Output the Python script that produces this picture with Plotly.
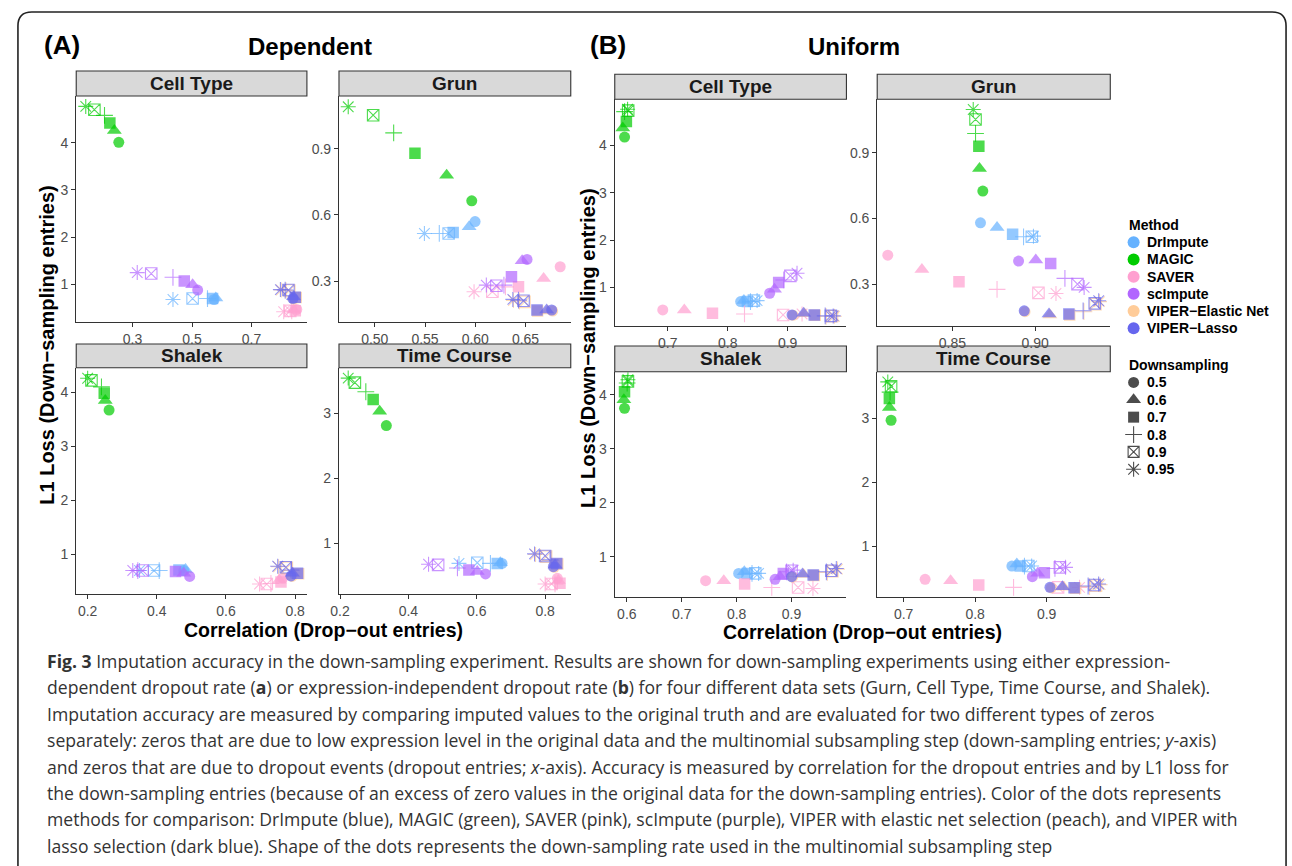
import plotly.graph_objects as go

W, H = 1292, 866

# ---------------- data ----------------
METHODS = ["DrImpute", "MAGIC", "SAVER", "scImpute", "VIPER−Elastic Net", "VIPER−Lasso"]
RATES = ["0.5", "0.6", "0.7", "0.8", "0.9", "0.95"]
DATASETS = ["Cell Type", "Grun", "Shalek", "Time Course"]

# Each row = one method (order of METHODS), each column = one down-sampling rate (order of RATES)
DEP_CELLTYPE_CORR = [
    [0.574, 0.580, 0.569, 0.552, 0.502, 0.436],
    [0.254, 0.239, 0.224, 0.206, 0.172, 0.143],
    [0.852, 0.841, 0.847, 0.835, 0.830, 0.808],
    [0.519, 0.502, 0.474, 0.436, 0.363, 0.316],
    [0.842, 0.844, 0.850, 0.816, 0.827, 0.800],
    [0.839, 0.841, 0.847, 0.813, 0.824, 0.797],
]
DEP_CELLTYPE_L1 = [
    [0.68, 0.71, 0.70, 0.70, 0.70, 0.68],
    [4.01, 4.26, 4.42, 4.58, 4.70, 4.77],
    [0.47, 0.46, 0.44, 0.44, 0.44, 0.42],
    [0.88, 0.99, 1.07, 1.15, 1.23, 1.25],
    [0.69, 0.73, 0.72, 0.87, 0.87, 0.88],
    [0.70, 0.74, 0.73, 0.88, 0.88, 0.89],
]
DEP_GRUN_CORR = [
    [0.5998, 0.5939, 0.578, 0.5642, 0.5735, 0.5494],
    [0.5965, 0.5715, 0.540, 0.5188, 0.4984, 0.4736],
    [0.6845, 0.668, 0.643, 0.630, 0.617, 0.5988],
    [0.6515, 0.6466, 0.636, 0.6285, 0.621, 0.611],
    [0.677, 0.672, 0.662, 0.644, 0.649, 0.638],
    [0.676, 0.671, 0.6614, 0.643, 0.648, 0.6374],
]
DEP_GRUN_L1 = [
    [0.570, 0.546, 0.520, 0.516, 0.516, 0.516],
    [0.664, 0.780, 0.879, 0.972, 1.052, 1.090],
    [0.365, 0.312, 0.274, 0.274, 0.252, 0.252],
    [0.398, 0.392, 0.320, 0.282, 0.279, 0.282],
    [0.164, 0.164, 0.164, 0.209, 0.206, 0.212],
    [0.169, 0.169, 0.169, 0.214, 0.211, 0.217],
]
DEP_SHALEK_CORR = [
    [0.478, 0.483, 0.464, 0.407, 0.392, 0.350],
    [0.262, 0.251, 0.248, 0.240, 0.211, 0.200],
    [0.764, 0.754, 0.759, 0.730, 0.718, 0.697],
    [0.495, 0.478, 0.454, 0.345, 0.359, 0.3305],
    [0.791, 0.795, 0.810, 0.791, 0.776, 0.752],
    [0.788, 0.792, 0.807, 0.788, 0.773, 0.7495],
]
DEP_SHALEK_L1 = [
    [0.70, 0.72, 0.71, 0.70, 0.70, 0.70],
    [3.67, 3.85, 3.98, 4.10, 4.22, 4.26],
    [0.56, 0.52, 0.49, 0.46, 0.45, 0.45],
    [0.59, 0.65, 0.68, 0.70, 0.70, 0.70],
    [0.59, 0.64, 0.64, 0.70, 0.75, 0.77],
    [0.60, 0.65, 0.65, 0.71, 0.76, 0.78],
]
DEP_TIMECOURSE_CORR = [
    [0.674, 0.669, 0.660, 0.640, 0.6015, 0.548],
    [0.3355, 0.316, 0.297, 0.2755, 0.2435, 0.224],
    [0.8357, 0.8385, 0.8435, 0.829, 0.819, 0.800],
    [0.6257, 0.6015, 0.577, 0.5435, 0.487, 0.459],
    [0.827, 0.832, 0.837, 0.8175, 0.803, 0.772],
    [0.824, 0.829, 0.834, 0.8145, 0.800, 0.769],
]
DEP_TIMECOURSE_L1 = [
    [0.69, 0.70, 0.69, 0.69, 0.70, 0.69],
    [2.81, 3.03, 3.21, 3.33, 3.47, 3.54],
    [0.46, 0.426, 0.385, 0.374, 0.374, 0.374],
    [0.528, 0.564, 0.59, 0.62, 0.667, 0.677],
    [0.63, 0.657, 0.68, 0.734, 0.795, 0.826],
    [0.64, 0.667, 0.69, 0.744, 0.805, 0.836],
]
UNI_CELLTYPE_CORR = [
    [0.8216, 0.827, 0.8327, 0.838, 0.8437, 0.849],
    [0.628, 0.625, 0.631, 0.628, 0.634, 0.633],
    [0.6917, 0.7276, 0.7746, 0.828, 0.8924, 0.924],
    [0.870, 0.878, 0.885, 0.8935, 0.9045, 0.9156],
    [0.909, 0.928, 0.946, 0.964, 0.974, 0.978],
    [0.9073, 0.9266, 0.9443, 0.9626, 0.972, 0.976],
]
UNI_CELLTYPE_L1 = [
    [0.696, 0.717, 0.696, 0.696, 0.717, 0.717],
    [4.18, 4.37, 4.51, 4.72, 4.74, 4.77],
    [0.52, 0.52, 0.45, 0.435, 0.414, 0.435],
    [0.873, 0.958, 1.10, 1.155, 1.24, 1.297],
    [0.405, 0.44, 0.405, 0.385, 0.385, 0.385],
    [0.414, 0.45, 0.414, 0.393, 0.393, 0.393],
]
UNI_GRUN_CORR = [
    [0.867, 0.877, 0.8864, 0.893, 0.898, 0.899],
    [0.8684, 0.8664, 0.866, 0.864, 0.864, 0.8626],
    [0.811, 0.8316, 0.854, 0.877, 0.902, 0.9126],
    [0.890, 0.9004, 0.9094, 0.918, 0.9256, 0.9296],
    [0.8939, 0.9089, 0.9209, 0.9295, 0.9365, 0.9389],
    [0.8934, 0.9084, 0.9204, 0.929, 0.936, 0.9384],
]
UNI_GRUN_L1 = [
    [0.58, 0.559, 0.528, 0.516, 0.516, 0.519],
    [0.7247, 0.828, 0.930, 0.988, 1.052, 1.0976],
    [0.432, 0.367, 0.311, 0.276, 0.26, 0.257],
    [0.405, 0.41, 0.394, 0.326, 0.30, 0.285],
    [0.174, 0.159, 0.159, 0.174, 0.208, 0.22],
    [0.178, 0.163, 0.163, 0.178, 0.212, 0.224],
]
UNI_SHALEK_CORR = [
    [0.8037, 0.814, 0.819, 0.828, 0.834, 0.840],
    [0.5958, 0.5946, 0.5958, 0.6006, 0.602, 0.602],
    [0.7435, 0.7766, 0.8146, 0.864, 0.912, 0.939],
    [0.870, 0.879, 0.885, 0.891, 0.900, 0.903],
    [0.902, 0.922, 0.9414, 0.9655, 0.9745, 0.9836],
    [0.9002, 0.920, 0.9394, 0.9635, 0.9725, 0.9816],
]
UNI_SHALEK_L1 = [
    [0.69, 0.72, 0.69, 0.69, 0.69, 0.69],
    [3.75, 3.91, 4.06, 4.22, 4.25, 4.28],
    [0.555, 0.555, 0.493, 0.43, 0.43, 0.41],
    [0.58, 0.63, 0.69, 0.72, 0.74, 0.75],
    [0.62, 0.67, 0.65, 0.71, 0.73, 0.77],
    [0.63, 0.68, 0.66, 0.72, 0.74, 0.78],
]
UNI_TIMECOURSE_CORR = [
    [0.8514, 0.8583, 0.863, 0.869, 0.8745, 0.879],
    [0.6824, 0.680, 0.680, 0.681, 0.6824, 0.6778],
    [0.730, 0.7657, 0.805, 0.8537, 0.916, 0.946],
    [0.880, 0.8875, 0.8968, 0.9116, 0.9185, 0.9264],
    [0.9066, 0.924, 0.9404, 0.960, 0.969, 0.9747],
    [0.9046, 0.922, 0.9384, 0.958, 0.967, 0.9727],
]
UNI_TIMECOURSE_L1 = [
    [0.6875, 0.72, 0.6875, 0.6875, 0.6875, 0.6875],
    [2.97, 3.17, 3.31, 3.41, 3.50, 3.57],
    [0.479, 0.458, 0.39, 0.354, 0.354, 0.354],
    [0.52, 0.573, 0.583, 0.65, 0.667, 0.667],
    [0.344, 0.355, 0.339, 0.365, 0.38, 0.396],
    [0.354, 0.365, 0.349, 0.375, 0.39, 0.406],
]

# tick values per facet
TICKS_DEP_CELLTYPE_X = [0.3, 0.5, 0.7]
TICKS_DEP_CELLTYPE_Y = [1, 2, 3, 4]
TICKS_DEP_GRUN_X = [0.50, 0.55, 0.60, 0.65]
TICKS_DEP_GRUN_Y = [0.3, 0.6, 0.9]
TICKS_DEP_SHALEK_X = [0.2, 0.4, 0.6, 0.8]
TICKS_DEP_SHALEK_Y = [1, 2, 3, 4]
TICKS_DEP_TIMECOURSE_X = [0.2, 0.4, 0.6, 0.8]
TICKS_DEP_TIMECOURSE_Y = [1, 2, 3]
TICKS_UNI_CELLTYPE_X = [0.7, 0.8, 0.9]
TICKS_UNI_CELLTYPE_Y = [1, 2, 3, 4]
TICKS_UNI_GRUN_X = [0.85, 0.90]
TICKS_UNI_GRUN_Y = [0.3, 0.6, 0.9]
TICKS_UNI_SHALEK_X = [0.6, 0.7, 0.8, 0.9]
TICKS_UNI_SHALEK_Y = [1, 2, 3, 4]
TICKS_UNI_TIMECOURSE_X = [0.7, 0.8, 0.9]
TICKS_UNI_TIMECOURSE_Y = [1, 2, 3]

# ---------------- styles ----------------
METHOD_COLORS = ["#66B2FF", "#00CC00", "#FFA0D0", "#B266FF", "#FFCC99", "#6666EE"]
RATE_SYMBOLS = ["circle", "triangle-up", "square", "cross-thin-open", "square-x-open", "asterisk-open"]
RATE_SIZES = [11, 13, 11.5, 12, 11.5, 12.5]
RATE_LINEW = [0, 0, 0, 1.1, 1.1, 1.1]
SANS = "Liberation Sans, Arial, Helvetica, sans-serif"
CAPTION_FONT = "Open Sans, Noto Sans, sans-serif"


def fx(px):
    return px / W


def fy(py):
    return 1 - py / H


fig = go.Figure()

facets = [
    (DEP_CELLTYPE_CORR, DEP_CELLTYPE_L1, "Cell Type", (67.7, 300), (96, 321.7), (0.111, 0.886), (0.21, 4.99),
     TICKS_DEP_CELLTYPE_X, TICKS_DEP_CELLTYPE_Y, ".1f", "d", (71, 96)),
    (DEP_GRUN_CORR, DEP_GRUN_L1, "Grun", (332.3, 565.7), (96, 321.7), (0.4644, 0.695), (0.116, 1.139),
     TICKS_DEP_GRUN_X, TICKS_DEP_GRUN_Y, ".2f", ".1f", (71, 96)),
    (DEP_SHALEK_CORR, DEP_SHALEK_L1, "Shalek", (67.7, 300), (367.7, 594.3), (0.167, 0.834), (0.26, 4.455),
     TICKS_DEP_SHALEK_X, TICKS_DEP_SHALEK_Y, ".1f", "d", (344, 367.7)),
    (DEP_TIMECOURSE_CORR, DEP_TIMECOURSE_L1, "Time Course", (332.3, 565.7), (367.7, 594.3), (0.197, 0.875),
     (0.215, 3.70), TICKS_DEP_TIMECOURSE_X, TICKS_DEP_TIMECOURSE_Y, ".1f", "d", (344, 367.7)),
    (UNI_CELLTYPE_CORR, UNI_CELLTYPE_L1, "Cell Type", (610, 843.3), (99.3, 325.7), (0.6116, 0.998), (0.186, 4.98),
     TICKS_UNI_CELLTYPE_X, TICKS_UNI_CELLTYPE_Y, ".1f", "d", (74.3, 99.3)),
    (UNI_GRUN_CORR, UNI_GRUN_L1, "Grun", (874.3, 1109), (99.3, 325.7), (0.8046, 0.9454), (0.11, 1.144),
     TICKS_UNI_GRUN_X, TICKS_UNI_GRUN_Y, ".2f", ".1f", (74.3, 99.3)),
    (UNI_SHALEK_CORR, UNI_SHALEK_L1, "Shalek", (610, 843.3), (371.7, 597.3), (0.578, 1.0), (0.247, 4.43),
     TICKS_UNI_SHALEK_X, TICKS_UNI_SHALEK_Y, ".1f", "d", (346, 371.7)),
    (UNI_TIMECOURSE_CORR, UNI_TIMECOURSE_L1, "Time Course", (874.3, 1109), (371.7, 597.3), (0.663, 0.989),
     (0.198, 3.73), TICKS_UNI_TIMECOURSE_X, TICKS_UNI_TIMECOURSE_Y, ".1f", "d", (346, 371.7)),
]

shapes = []
annotations = []
layout_axes = {}

for i, (corr, l1, name, xd, yd, xr, yr, xt, yt, xf, yf, strip) in enumerate(facets, start=1):
    xa = "x" if i == 1 else f"x{i}"
    ya = "y" if i == 1 else f"y{i}"
    for m, meth in enumerate(METHODS):
        fig.add_trace(go.Scatter(
            x=corr[m], y=l1[m], mode="markers", xaxis=xa, yaxis=ya,
            name=meth, showlegend=False, hoverinfo="skip",
            marker=dict(symbol=RATE_SYMBOLS, size=RATE_SIZES, color=METHOD_COLORS[m],
                        line=dict(color=METHOD_COLORS[m], width=RATE_LINEW)),
        ))
    common = dict(showline=True, linecolor="#333333", linewidth=1.1, ticks="outside", ticklen=4,
                  tickwidth=1.1, tickcolor="#333333", showgrid=False, zeroline=False,
                  tickfont=dict(family=SANS, size=14, color="#4D4D4D"), fixedrange=True)
    layout_axes["xaxis" if i == 1 else f"xaxis{i}"] = dict(
        domain=[fx(xd[0]), fx(xd[1])], range=list(xr), tickvals=xt, tickformat=xf,
        anchor=ya, **common)
    layout_axes["yaxis" if i == 1 else f"yaxis{i}"] = dict(
        domain=[fy(yd[1]), fy(yd[0])], range=list(yr), tickvals=yt, tickformat=yf,
        anchor=xa, **common)
    shapes.append(dict(type="rect", xref="paper", yref="paper",
                       x0=fx(xd[0]), x1=fx(xd[1]), y0=fy(strip[1]), y1=fy(strip[0]),
                       fillcolor="#D9D9D9", line=dict(color="#333333", width=1.1), layer="below"))
    annotations.append(dict(text=f"<b>{name}</b>", xref="paper", yref="paper",
                            x=fx((xd[0] + xd[1]) / 2), y=fy((strip[0] + strip[1]) / 2),
                            xanchor="center", yanchor="middle", showarrow=False,
                            font=dict(family=SANS, size=19, color="#1A1A1A")))

# ---------- legend built on auxiliary category axes ----------
METHOD_ROWS = ["Method"] + METHODS
RATE_ROWS = ["Downsampling"] + RATES
layout_axes["xaxis9"] = dict(domain=[fx(1126), fx(1292)], range=[-1, 24.54], visible=False, fixedrange=True,
                             anchor="y9")
layout_axes["yaxis9"] = dict(domain=[fy(336.9), fy(216.4)], type="category", categoryarray=METHOD_ROWS,
                             categoryorder="array", range=[6.5, -0.5], visible=False, fixedrange=True,
                             anchor="x9")
layout_axes["xaxis10"] = dict(domain=[fx(1126), fx(1292)], range=[-1, 24.54], visible=False, fixedrange=True,
                              anchor="y10")
layout_axes["yaxis10"] = dict(domain=[fy(478), fy(356.3)], type="category", categoryarray=RATE_ROWS,
                              categoryorder="array", range=[6.5, -0.5], visible=False, fixedrange=True,
                              anchor="x10")

fig.add_trace(go.Scatter(x=[0] * len(METHODS), y=METHODS, xaxis="x9", yaxis="y9", mode="markers",
                         showlegend=False, hoverinfo="skip", cliponaxis=False,
                         marker=dict(symbol="circle", size=12, color=METHOD_COLORS)))
fig.add_trace(go.Scatter(x=[0] * len(RATES), y=RATES, xaxis="x10", yaxis="y10", mode="markers",
                         showlegend=False, hoverinfo="skip", cliponaxis=False,
                         marker=dict(symbol=RATE_SYMBOLS, size=[11, 13, 11, 12, 11, 12.5], color="black",
                                     line=dict(color="black", width=[0, 0, 0, 1.1, 1.1, 1.1]))))

LEG_FONT = dict(family=SANS, size=14, color="black")
for k, row in enumerate(METHOD_ROWS):
    annotations.append(dict(text=f"<b>{row}</b>", xref="x9", yref="y9", x=-1 if k == 0 else 1.8, y=k,
                            xanchor="left", yanchor="middle", showarrow=False, font=LEG_FONT))
for k, row in enumerate(RATE_ROWS):
    annotations.append(dict(text=f"<b>{row}</b>", xref="x10", yref="y10", x=-1 if k == 0 else 1.7, y=k,
                            xanchor="left", yanchor="middle", showarrow=False, font=LEG_FONT))


# ---------- panel titles / axis titles ----------
def ann(text, px, py, size, xanchor="center", angle=0, font=SANS, color="black"):
    annotations.append(dict(text=text, xref="paper", yref="paper", x=fx(px), y=fy(py), xanchor=xanchor,
                            yanchor="middle", showarrow=False, textangle=angle,
                            font=dict(family=font, size=size, color=color)))


ann("<b>(A)</b>", 33, 45, 26, xanchor="left")
ann("<b>Dependent</b>", 303, 46, 24)
ann("<b>(B)</b>", 583, 45, 26, xanchor="left")
ann("<b>Uniform</b>", 851, 46, 24)
ann("<b>L1 Loss (Down−sampling entries)</b>", 38, 345, 20, angle=-90)
ann("<b>L1 Loss (Down−sampling entries)</b>", 583, 348, 20, angle=-90)
ann("<b>Correlation (Drop−out entries)</b>", 316.7, 629.5, 19.5)
ann("<b>Correlation (Drop−out entries)</b>", 859.5, 632, 19.5)

# ---------- caption ----------
CAPTION = [
    "<b>Fig. 3</b> Imputation accuracy in the down-sampling experiment. Results are shown for down-sampling experiments using either expression-",
    "dependent dropout rate (<b>a</b>) or expression-independent dropout rate (<b>b</b>) for four different data sets (Gurn, Cell Type, Time Course, and Shalek).",
    "Imputation accuracy are measured by comparing imputed values to the original truth and are evaluated for two different types of zeros",
    "separately: zeros that are due to low expression level in the original data and the multinomial subsampling step (down-sampling entries; <i>y</i>-axis)",
    "and zeros that are due to dropout events (dropout entries; <i>x</i>-axis). Accuracy is measured by correlation for the dropout entries and by L1 loss for",
    "the down-sampling entries (because of an excess of zero values in the original data for the down-sampling entries). Color of the dots represents",
    "methods for comparison: DrImpute (blue), MAGIC (green), SAVER (pink), scImpute (purple), VIPER with elastic net selection (peach), and VIPER with",
    "lasso selection (dark blue). Shape of the dots represents the down-sampling rate used in the multinomial subsampling step",
]
for k, line in enumerate(CAPTION):
    ann(line, 36, 661 + k * 26.4, 17.6, xanchor="left", font=CAPTION_FONT, color="#333333")


# ---------- outer frame ----------
def P(px, py):
    return f"{fx(px):.5f},{fy(py):.5f}"


frame_path = (f"M {P(9, 866)} L {P(9, 26)} Q {P(9, 12)} {P(23, 12)} L {P(1272, 12)} "
              f"Q {P(1286, 12)} {P(1286, 26)} L {P(1286, 866)}")
shapes.append(dict(type="path", xref="paper", yref="paper", path=frame_path,
                   line=dict(color="#222222", width=1.6)))

fig.update_layout(
    width=W, height=H, margin=dict(l=0, r=0, t=0, b=0),
    paper_bgcolor="white", plot_bgcolor="white",
    shapes=shapes, annotations=annotations, showlegend=False,
    **layout_axes,
)

fig.write_html("out.html", config={"displayModeBar": False})
